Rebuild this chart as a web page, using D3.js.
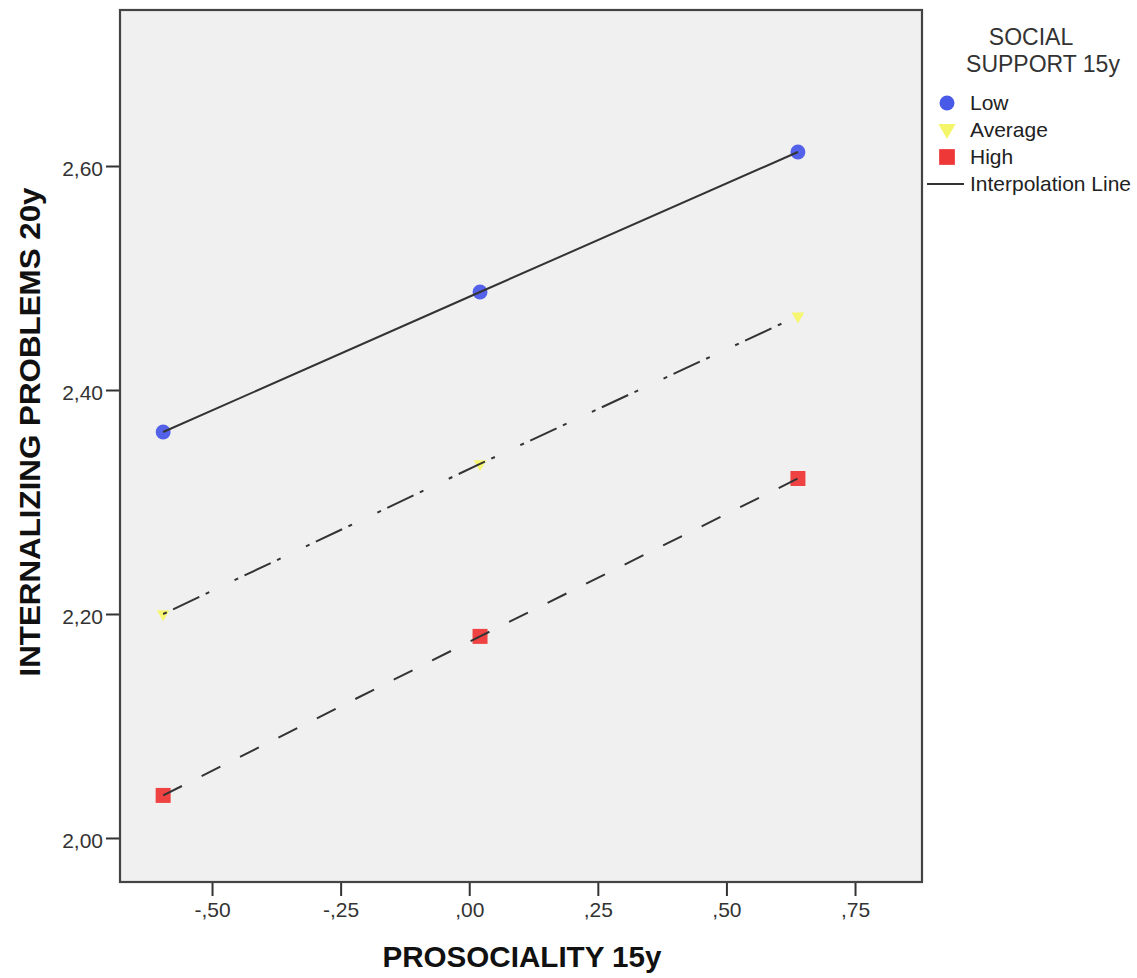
<!DOCTYPE html>
<html>
<head>
<meta charset="utf-8">
<script src="https://cdn.jsdelivr.net/npm/d3@7"></script>
<style>
  html, body { margin: 0; padding: 0; background: #fff; }
  svg { display: block; font-family: "Liberation Sans", Arial, sans-serif; }
</style>
</head>
<body>
<svg id="chart" width="1137" height="978"></svg>
<script>
// ---- data ----
const prosociality = [-0.595, 0.021, 0.639];
const lowSupport = [2.3625, 2.4875, 2.6125];
const averageSupport = [2.200, 2.334, 2.466];
const highSupport = [2.038, 2.180, 2.321];
const xTicks = [-0.5, -0.25, 0, 0.25, 0.5, 0.75];
const yTicks = [2.0, 2.2, 2.4, 2.6];
const seriesNames = ["Low", "Average", "High"];
const legendTitle = ["SOCIAL", "SUPPORT 15y"];
const xTitle = "PROSOCIALITY 15y";
const yTitle = "INTERNALIZING PROBLEMS 20y";

const svg = d3.select("#chart");
const L = 120, R = 922, T = 10, B = 882;

const x = d3.scaleLinear().domain([-0.6789, 0.8802]).range([L, R]);
const y = d3.scaleLinear().domain([1.9607, 2.7393]).range([B, T]);

const fmtX = v => {
  const s = Math.abs(v).toFixed(2).replace(/^0\./, ",").replace(".", ",");
  return (v < 0 ? "-" : "") + s;
};
const fmtY = v => v.toFixed(2).replace(".", ",");

// plot background
svg.append("rect").attr("x", L).attr("y", T).attr("width", R - L).attr("height", B - T)
  .attr("fill", "#f0f0f0");

// axes
const xAxis = svg.append("g").attr("transform", `translate(0,${B})`)
  .call(d3.axisBottom(x).tickValues(xTicks).tickFormat(fmtX).tickSize(14).tickPadding(4).tickSizeOuter(0));
const yAxis = svg.append("g").attr("transform", `translate(${L},0)`)
  .call(d3.axisLeft(y).tickValues(yTicks).tickFormat(fmtY).tickSize(14).tickPadding(3).tickSizeOuter(0));
[xAxis, yAxis].forEach(g => {
  g.select(".domain").remove();
  g.selectAll(".tick line").attr("stroke", "#333").attr("stroke-width", 2);
  g.selectAll(".tick text").attr("fill", "#333").attr("font-size", 21)
    .attr("font-family", "'Liberation Sans', Arial, sans-serif");
});
xAxis.selectAll(".tick text").attr("dy", "0.82em");
yAxis.selectAll(".tick text").attr("dy", "0.45em");

// frame
svg.append("rect").attr("x", L).attr("y", T).attr("width", R - L).attr("height", B - T)
  .attr("fill", "none").attr("stroke", "#444").attr("stroke-width", 2.2);

// markers
const colors = { Low: "#4a5ae8", Average: "#f5f56a", High: "#ee3838" };
const sym = {
  Low: d3.symbol().type(d3.symbolCircle).size(176),
  Average: d3.symbol().type(d3.symbolTriangle).size(70),
  High: d3.symbol().type(d3.symbolSquare).size(225)
};
const allSeries = [lowSupport, averageSupport, highSupport];
const dashes = [null, "4,7,29,7,4,28", "21,22"];

allSeries.forEach((vals, i) => {
  const name = seriesNames[i];
  svg.append("g").selectAll("path").data(vals).join("path")
    .attr("d", sym[name]())
    .attr("transform", (d, j) => `translate(${x(prosociality[j])},${y(d)})` + (name === "Average" ? " rotate(180)" : ""))
    .attr("fill", colors[name]).attr("opacity", 0.95);
});

// interpolation lines (drawn over markers)
const line = d3.line().x((d, j) => x(prosociality[j])).y(d => y(d));
allSeries.forEach((vals, i) => {
  svg.append("path").datum(vals).attr("d", line)
    .attr("fill", "none").attr("stroke", "#333").attr("stroke-width", 2)
    .attr("stroke-dasharray", dashes[i]);
});

// axis titles
svg.append("text").attr("x", 522).attr("y", 967).attr("text-anchor", "middle")
  .attr("font-weight", "bold").attr("font-size", 30).attr("fill", "#111")
  .attr("textLength", 279).attr("lengthAdjust", "spacingAndGlyphs")
  .text(xTitle);
svg.append("text").attr("transform", "translate(40,432) rotate(-90)").attr("text-anchor", "middle")
  .attr("font-weight", "bold").attr("font-size", 30).attr("fill", "#111")
  .attr("textLength", 489).attr("lengthAdjust", "spacingAndGlyphs")
  .text(yTitle);

// legend
const lg = svg.append("g");
const titleX = [1031, 1043];
legendTitle.forEach((t, i) => {
  lg.append("text").attr("x", titleX[i]).attr("y", 45 + i * 27).attr("text-anchor", "middle")
    .attr("font-size", 23).attr("fill", "#333").text(t);
});
const legY = [103, 130, 157];
seriesNames.forEach((name, i) => {
  lg.append("path").attr("d", sym[name]())
    .attr("transform", `translate(947,${legY[i] - (name === "Average" ? 1 : 0)})` + (name === "Average" ? " rotate(180) scale(1.35)" : name === "Low" ? " scale(1.0)" : " scale(1.05)"))
    .attr("fill", colors[name]);
  lg.append("text").attr("x", 970).attr("y", legY[i] + 7).attr("font-size", 21)
    .attr("fill", "#222").text(name);
});
lg.append("line").attr("x1", 927).attr("x2", 964).attr("y1", 184).attr("y2", 184)
  .attr("stroke", "#333").attr("stroke-width", 2);
lg.append("text").attr("x", 970).attr("y", 191).attr("font-size", 21)
  .attr("fill", "#222").attr("textLength", 161).attr("lengthAdjust", "spacingAndGlyphs")
  .text("Interpolation Line");
</script>
</body>
</html>
